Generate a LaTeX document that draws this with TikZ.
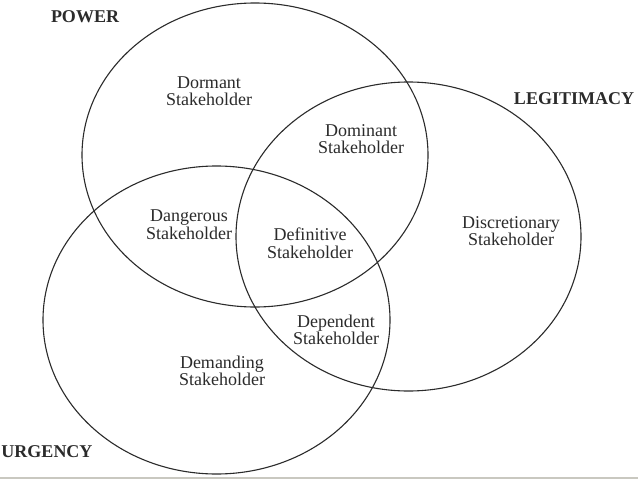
\documentclass[tikz,border=0pt]{standalone}
\usepackage{fontspec}
\setmainfont{Liberation Serif}
\definecolor{ink}{HTML}{2B2B2B}
\definecolor{band}{HTML}{C9C8C0}
\begin{document}
\begin{tikzpicture}[x=1pt,y=-1pt,
  set/.style={draw=ink,line width=1.1pt},
  title/.style={font=\fontsize{18}{18}\selectfont\bfseries,text=ink,inner sep=0pt},
  region/.style={font=\fontsize{18}{17.5}\selectfont,text=ink,align=center,inner sep=0pt}]
\useasboundingbox (0,0) rectangle (638,479);
\fill[white] (0,0) rectangle (638,479);
\fill[band] (0,476.5) rectangle (638,479);
\draw[set] (255,155) ellipse [x radius=173, y radius=152];
\draw[set] (408.5,236.5) ellipse [x radius=172.5, y radius=154.5];
\draw[set] (216.5,320) ellipse [x radius=173.5, y radius=154];
\node[title] (power) at (85,17) {POWER};
\node[title] (legit) at (574,98.5) {LEGITIMACY};
\node[title] (urg) at (47,451.5) {URGENCY};
\node[region] (dormant) at (209,91) {Dormant\\Stakeholder};
\node[region] (dominant) at (361,139) {Dominant\\Stakeholder};
\node[region] (dangerous) at (189,224.5) {Dangerous\\Stakeholder};
\node[region] (definitive) at (310,243) {Definitive\\Stakeholder};
\node[region] (discretionary) at (511,231) {Discretionary\\Stakeholder};
\node[region] (dependent) at (336,330) {Dependent\\Stakeholder};
\node[region] (demanding) at (222,371) {Demanding\\Stakeholder};
\end{tikzpicture}
\end{document}
